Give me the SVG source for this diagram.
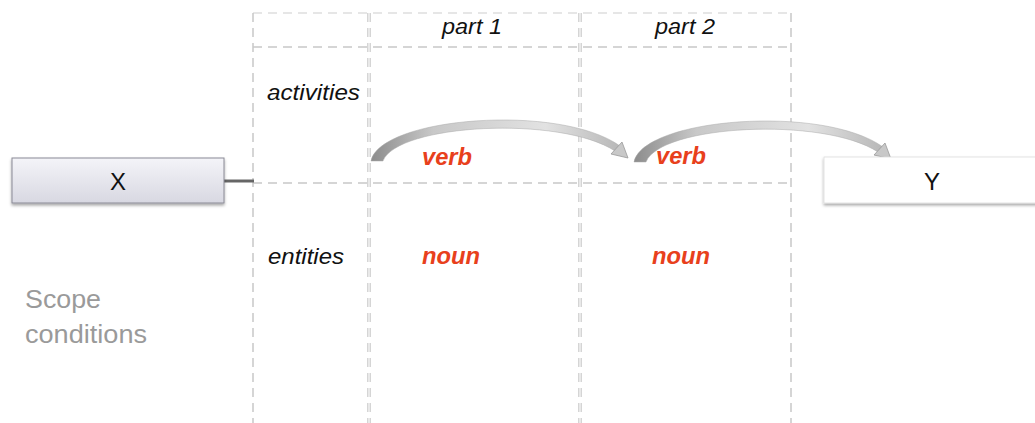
<svg xmlns="http://www.w3.org/2000/svg" width="1035" height="423" viewBox="0 0 1035 423">
<defs>
<linearGradient id="gx" x1="0" y1="0" x2="0" y2="1"><stop offset="0" stop-color="#f4f4f8"/><stop offset="1" stop-color="#d8d8e2"/></linearGradient>
<linearGradient id="ga" x1="0" y1="0" x2="1" y2="0"><stop offset="0" stop-color="#8c8c8c"/><stop offset="0.25" stop-color="#c8c8c8"/><stop offset="0.7" stop-color="#e2e2e2"/><stop offset="1" stop-color="#b8b8b8"/></linearGradient>
<filter id="sh" x="-10%" y="-20%" width="130%" height="160%"><feDropShadow dx="0" dy="2" stdDeviation="1.5" flood-color="#000" flood-opacity="0.35"/></filter>
<g id="arrow">
<path d="M371,161 C380,117 560,103 620,146 L615,151 C560,115 397,124 383,161 Z" fill="url(#ga)" stroke="#aaa" stroke-width="0.5"/>
<polygon points="628,158 611,154 622,142" fill="#c8c8c8" stroke="#999" stroke-width="0.8"/>
</g>
</defs>
<style>
.g{stroke:#c8c8c8;stroke-width:1.5;stroke-dasharray:9 6;fill:none}
.gd{stroke:#c8c8c8;stroke-width:3.5;stroke-dasharray:9 6;fill:none}
.gw{stroke:#fff;stroke-width:1.2;stroke-dasharray:9 6;fill:none}
.lab{font-family:"Liberation Sans",Arial,sans-serif;font-style:italic;font-size:22px;fill:#111}
.red{font-family:"Liberation Sans",Arial,sans-serif;font-style:italic;font-weight:bold;font-size:24px;fill:#e8401c}
.box{font-family:"Liberation Sans",Arial,sans-serif;font-size:24px;fill:#111;text-anchor:middle}
.sc{font-family:"Liberation Sans",Arial,sans-serif;font-size:25px;fill:#9a9a9a}
</style>
<rect width="1035" height="423" fill="#fff"/>
<g id="grid">
<line class="g" x1="253" y1="13" x2="791" y2="13" stroke-opacity="0.6"/>
<line class="g" x1="253" y1="13" x2="253" y2="423"/>
<line class="g" x1="791" y1="13" x2="791" y2="423"/>
<line class="gd" x1="369" y1="13" x2="369" y2="423"/>
<line class="gw" x1="369" y1="13" x2="369" y2="423"/>
<line class="gd" x1="580" y1="13" x2="580" y2="423"/>
<line class="gw" x1="580" y1="13" x2="580" y2="423"/>
<line class="g" x1="253" y1="47" x2="791" y2="47" stroke="#b8b8b8" stroke-width="2"/>
<line class="g" x1="253" y1="183" x2="791" y2="183" stroke="#b8b8b8" stroke-width="2"/>
</g>
<g id="labels">
<text class="lab" x="442" y="34" textLength="60" lengthAdjust="spacingAndGlyphs">part 1</text>
<text class="lab" x="655" y="34" textLength="60" lengthAdjust="spacingAndGlyphs">part 2</text>
<text class="lab" x="267" y="100" textLength="93" lengthAdjust="spacingAndGlyphs">activities</text>
<text class="lab" x="268" y="264" textLength="76" lengthAdjust="spacingAndGlyphs">entities</text>
<text class="sc" x="25" y="308" textLength="76" lengthAdjust="spacingAndGlyphs">Scope</text>
<text class="sc" x="25" y="343" textLength="122" lengthAdjust="spacingAndGlyphs">conditions</text>
</g>
<g id="connectors">
<line x1="224" y1="181" x2="254" y2="181" stroke="#666" stroke-width="3"/>
<use href="#arrow"/>
<use href="#arrow" transform="translate(263,1)"/>
</g>
<g id="node-x">
<rect x="12" y="158" width="212" height="45" fill="url(#gx)" stroke="#8a8a95" stroke-width="1" filter="url(#sh)"/>
<text class="box" x="118" y="190">X</text>
</g>
<g id="node-y">
<rect x="824" y="157" width="220" height="46" fill="#fff" stroke="#ddd" stroke-width="0.8" filter="url(#sh)"/>
<text class="box" x="932" y="190">Y</text>
</g>
<g id="words">
<text class="red" x="422" y="165" textLength="50" lengthAdjust="spacingAndGlyphs">verb</text>
<text class="red" x="656" y="164" textLength="50" lengthAdjust="spacingAndGlyphs">verb</text>
<text class="red" x="422" y="264" textLength="58" lengthAdjust="spacingAndGlyphs">noun</text>
<text class="red" x="652" y="264" textLength="58" lengthAdjust="spacingAndGlyphs">noun</text>
</g>
</svg>
